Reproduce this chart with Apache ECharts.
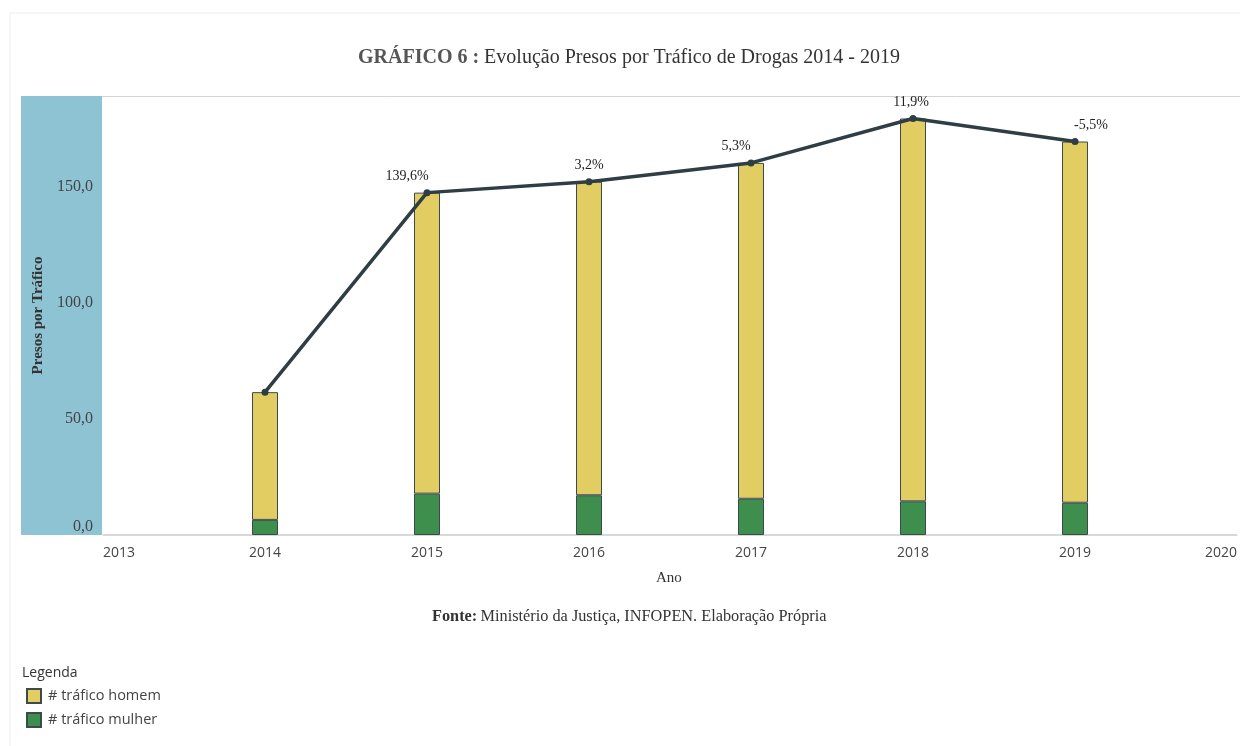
<!DOCTYPE html>
<html>
<head>
<meta charset="utf-8">
<script src="https://cdn.jsdelivr.net/npm/echarts@6/dist/echarts.min.js"></script>
<style>
html,body{margin:0;padding:0;background:#fff;}
#chart{width:1240px;height:746px;}
</style>
</head>
<body>
<div id="chart"></div>
<script>
const years = ['2013', '2014', '2015', '2016', '2017', '2018', '2019', '2020'];
const homem = [null, 55.0, 129.6, 135.0, 144.6, 164.8, 155.5, null];
const mulher = [null, 6.5, 17.8, 17.1, 15.6, 14.5, 13.9, null];
const total = [null, 61.5, 147.4, 152.1, 160.2, 179.3, 169.4, null];
const pctLabels = ['', '', '139,6%', '3,2%', '5,3%', '11,9%', '-5,5%', ''];
const yTicks = [0, 50, 100, 150];

const chart = echarts.init(document.getElementById('chart'));
const serif = '"Liberation Serif", "DejaVu Serif", serif';
const sans = '"Open Sans", "Noto Sans", sans-serif';
const labelDx = [0, 0, -20, 0, -15, -2, 16, 0];

const option = {
  animation: false,
  backgroundColor: '#ffffff',
  title: {
    text: '{b|GRÁFICO 6 :} {r|Evolução Presos por Tráfico de Drogas 2014 - 2019}',
    left: 624, top: 43, textAlign: 'center',
    textStyle: {
      rich: {
        b: {fontFamily: serif, fontWeight: 'bold', fontSize: 20, color: '#555555'},
        r: {fontFamily: serif, fontWeight: 'normal', fontSize: 20, color: '#333333'}
      }
    }
  },
  grid: {left: 103, right: 1, top: 96, bottom: 211, containLabel: false},
  legend: {
    orient: 'vertical', left: 26, top: 688, padding: 0,
    itemWidth: 14, itemHeight: 14, itemGap: 8,
    data: ['# tráfico homem', '# tráfico mulher'],
    textStyle: {fontFamily: sans, fontSize: 14.5, color: '#444', lineHeight: 14, padding: [0, 0, 0, 2]},
    icon: 'rect'
  },
  graphic: [
    {type: 'rect', z: -1, shape: {x: 21, y: 96, width: 81, height: 439}, style: {fill: '#8dc3d3'}},
    {type: 'line', shape: {x1: 10, y1: 13, x2: 10, y2: 746}, style: {stroke: '#eeeeee', lineWidth: 1}},
    {type: 'line', shape: {x1: 10, y1: 13, x2: 1240, y2: 13}, style: {stroke: '#eeeeee', lineWidth: 1}},
    {type: 'line', shape: {x1: 102, y1: 96.5, x2: 1240, y2: 96.5}, style: {stroke: '#d4d4d4', lineWidth: 1}},
    {type: 'text', left: 656, top: 571, style: {text: 'Ano', font: '15px ' + serif, fill: '#333'}},
    {type: 'text', left: 432, top: 609, style: {
      text: '{b|Fonte:} {r|Ministério da Justiça, INFOPEN. Elaboração Própria}',
      rich: {
        b: {fontFamily: serif, fontWeight: 'bold', fontSize: 16.3, fill: '#333'},
        r: {fontFamily: serif, fontSize: 16.3, fill: '#333'}
      }
    }},
    {type: 'text', left: 22, top: 666, style: {text: 'Legenda', font: '14px ' + sans, fill: '#333'}}
  ],
  xAxis: {
    type: 'category', data: years, boundaryGap: false,
    splitLine: {show: false},
    axisLine: {show: true, lineStyle: {color: '#cccccc', width: 1.5}},
    axisTick: {show: false},
    axisLabel: {
      margin: 11, interval: 0,
      fontFamily: sans, fontSize: 14, color: '#444',
      alignMinLabel: 'left', alignMaxLabel: 'right'
    }
  },
  yAxis: {
    type: 'value', min: 0, max: 189,
    interval: 50,
    splitLine: {show: false},
    axisLine: {show: false},
    axisTick: {show: false},
    name: 'Presos por Tráfico', nameLocation: 'middle', nameRotate: 90, nameGap: 50,
    nameTextStyle: {fontFamily: serif, fontWeight: 'bold', fontSize: 15, color: '#333'},
    axisLabel: {
      showMaxLabel: false,
      formatter: v => (yTicks.indexOf(v) >= 0 ? v.toFixed(1).replace('.', ',') : ''),
      margin: 10, fontFamily: serif, fontSize: 16, color: '#444',
      verticalAlignMinLabel: 'bottom'
    }
  },
  series: [
    {
      name: '# tráfico mulher', type: 'bar', stack: 't', barWidth: 26,
      data: mulher,
      itemStyle: {color: '#3e8e4e', borderColor: '#3c4a4e', borderWidth: 1}
    },
    {
      name: '# tráfico homem', type: 'bar', stack: 't', barWidth: 26,
      data: homem,
      itemStyle: {color: '#e2cd62', borderColor: '#3c4a4e', borderWidth: 1}
    },
    {
      name: 'total', type: 'line', z: 5,
      data: total.map((v, i) => ({value: v, label: {offset: [labelDx[i], 0]}})),
      lineStyle: {color: '#2f3d45', width: 3.5},
      itemStyle: {color: '#2f3d45'},
      symbol: 'circle', symbolSize: 7,
      label: {
        show: true, position: 'top', distance: 6,
        formatter: p => pctLabels[p.dataIndex],
        fontFamily: serif, fontSize: 14, color: '#222'
      }
    }
  ]
};
chart.setOption(option);
</script>
</body>
</html>
